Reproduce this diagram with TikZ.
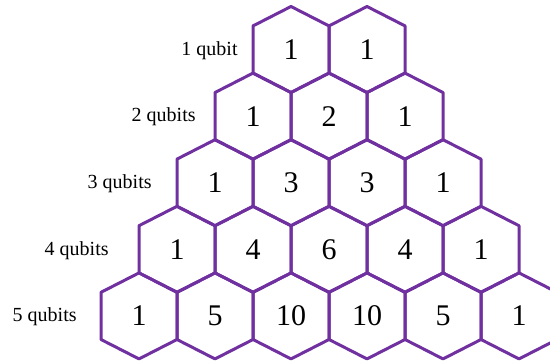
\documentclass[tikz,border=0pt]{standalone}
\usepackage{fontspec}
\setmainfont{Liberation Serif}
\usetikzlibrary{calc}
\definecolor{hexpurple}{RGB}{112,48,160}

\begin{document}
\begin{tikzpicture}[x=0.5pt,y=-0.5pt,
    hexline/.style={draw=hexpurple, line width=1.5pt, line join=round},
    num/.style={font=\fontsize{15}{18}\selectfont, inner sep=0pt},
    rowlabel/.style={anchor=east, inner sep=0pt, font=\fontsize{10}{12}\selectfont}]
    \useasboundingbox (0,0) rectangle (550,360);
    \clip (0,0) rectangle (550,360);

    % one row of the triangle per qubit count
    \foreach \r/\vals in {1/{1,1}, 2/{1,2,1}, 3/{1,3,3,1}, 4/{1,4,6,4,1}, 5/{1,5,10,10,5,1}} {
        \foreach \v [count=\k from 0] in \vals {
            \coordinate (c\r\k) at ({291-(\r-1)*38+\k*76}, {49.5+(\r-1)*66.6});
            \draw[hexline] (c\r\k) ++(0,-43) -- ++(38,19.4) -- ++(0,47.2) -- ++(-38,19.4)
                -- ++(-38,-19.4) -- ++(0,-47.2) -- cycle;
            \node[num] (n\r\k) at (c\r\k) {\v};
        }
    }

    \node[rowlabel] (lab1) at (238,51) {1 qubit};
    \node[rowlabel] (lab2) at (196,117) {2 qubits};
    \node[rowlabel] (lab3) at (152,184) {3 qubits};
    \node[rowlabel] (lab4) at (109,251) {4 qubits};
    \node[rowlabel] (lab5) at (77,317) {5 qubits};
\end{tikzpicture}
\end{document}
